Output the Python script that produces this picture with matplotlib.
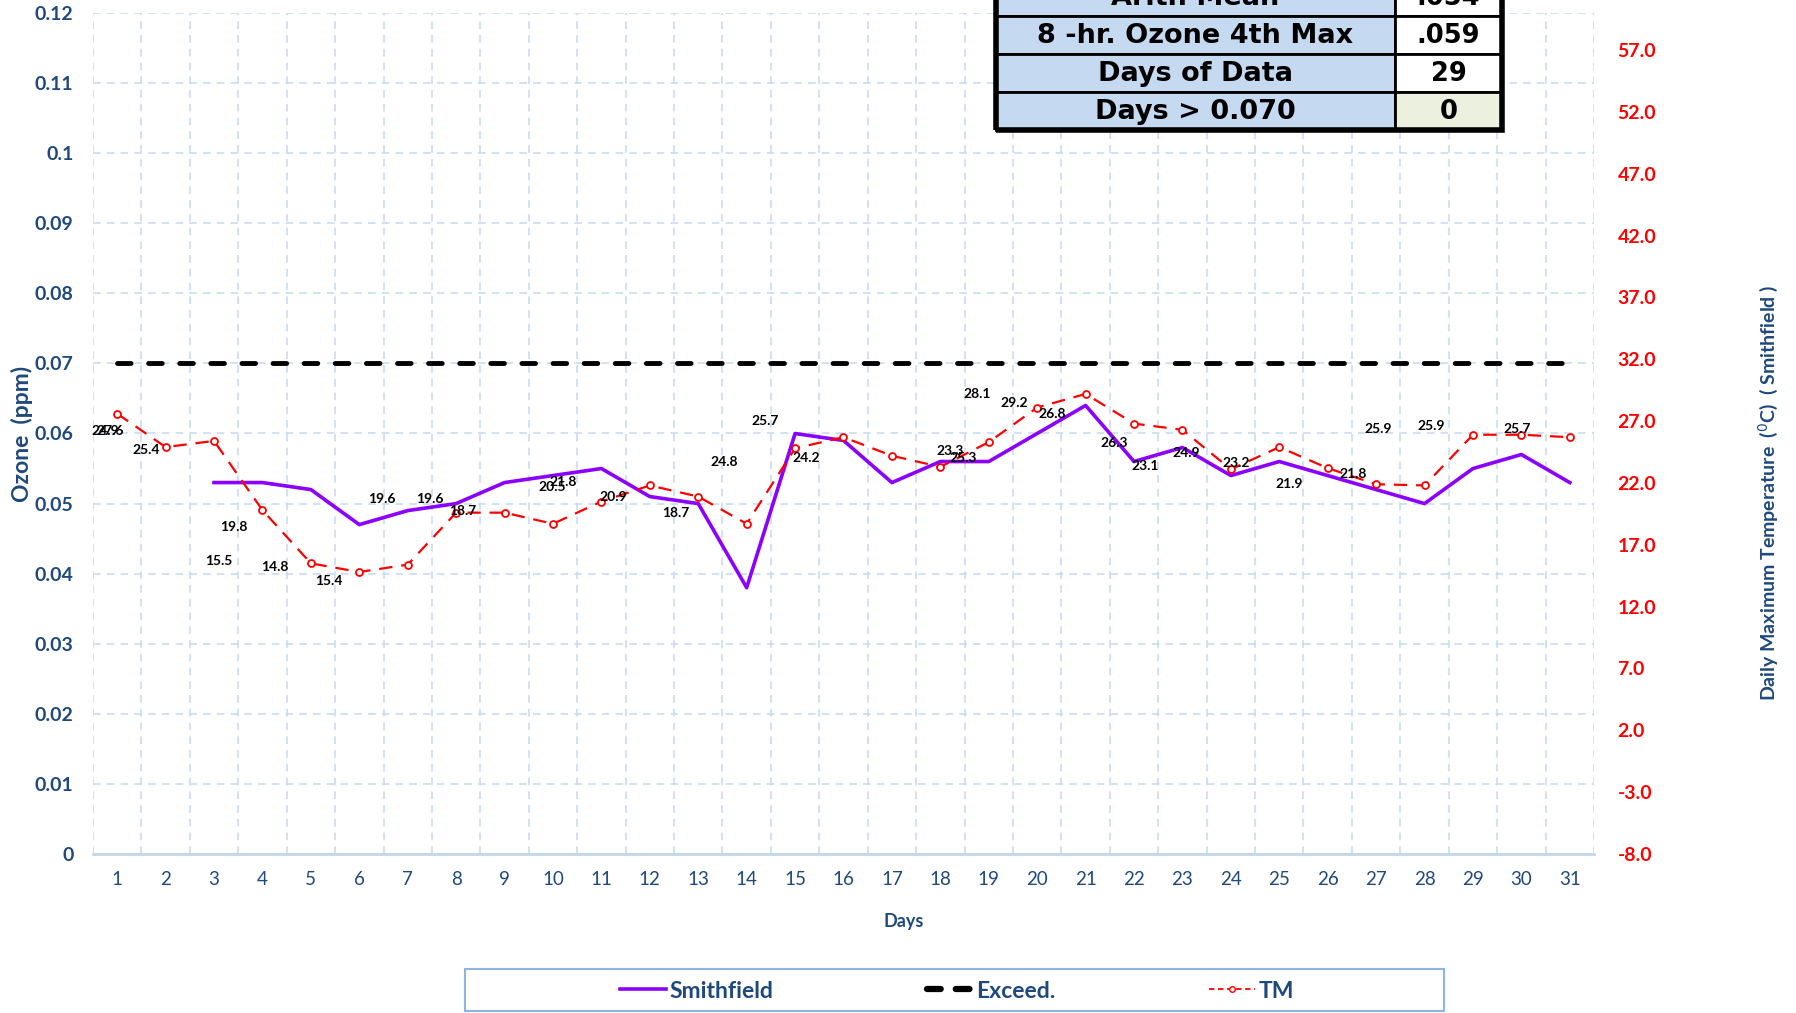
import numpy as np
import matplotlib.pyplot as plt
from matplotlib.patches import Rectangle
from matplotlib.lines import Line2D

# data
days = list(range(1, 32))
smithfield = [None, None, 0.053, 0.053, 0.052, 0.047, 0.049, 0.050, 0.053, 0.054,
              0.055, 0.051, 0.050, 0.038, 0.060, 0.059, 0.053, 0.056, 0.056, 0.060,
              0.064, 0.056, 0.058, 0.054, 0.056, 0.054, 0.052, 0.050, 0.055, 0.057,
              0.053]
exceed = [0.070] * 31
tm = [27.6, 24.9, 25.4, 19.8, 15.5, 14.8, 15.4, 19.6, 19.6, 18.7, 20.5, 21.8,
      20.9, 18.7, 24.8, 25.7, 24.2, 23.3, 25.3, 28.1, 29.2, 26.8, 26.3, 23.1,
      24.9, 23.2, 21.9, 21.8, 25.9, 25.9, 25.7]

table_labels = ["Arith Mean", "8 -hr. Ozone 4th Max", "Days of Data", "Days > 0.070"]
table_values = [".054", ".059", "29", "0"]

# where Excel dropped the TM data labels (offset from each point, days / deg C)
lab_dx = [-0.15, -1.25, -1.4, -0.6, -1.9, -1.75, -1.63, -1.54, -1.55, -1.86, -1.02,
          -1.8, -1.76, -1.46, -1.47, -1.62, -1.77, 0.2, -0.53, -1.25, -1.47, -1.7,
          -1.4, -1.77, -1.92, -1.88, -1.8, -1.47, -1.95, -1.86, -1.09]
lab_dy = [-1.4, 1.3, -0.7, -1.4, 0.2, 0.4, -1.3, 1.1, 1.1, 1.0, 1.2, 0.3, -0.05,
          0.85, -1.1, 1.3, -0.2, 1.3, -1.3, 1.1, -0.7, 0.8, -1.1, 0.3, -0.5, 0.4,
          0.0, 0.9, 0.5, 0.7, 0.7]

navy = '#1F497D'
grid_c = '#C6D9F1'
W, H = 1796, 1013

plt.rcParams['font.family'] = ['Lato', 'DejaVu Sans']
fig = plt.figure(figsize=(W / 100, H / 100), dpi=100)
ax = fig.add_axes([93 / W, 1 - 854 / H, (1594 - 93) / W, (854 - 13) / H])
ax2 = ax.twinx()

ax.set_xlim(0.5, 31.5)
ax.set_ylim(0, 0.12)
ax2.set_ylim(-8, 60)

ax.set_xticks(days)
ax.set_xticklabels([str(d) for d in days], color=navy, fontsize=13.5)
ax.set_xticks(np.arange(0.5, 32, 1), minor=True)
yt = np.round(np.arange(0, 0.121, 0.01), 2)
ax.set_yticks(yt)
ax.set_yticklabels([f"{v:g}" for v in yt], color=navy, fontsize=14, fontweight='bold')
ax.tick_params(which='both', length=0, pad=12)
ax.tick_params(axis='y', pad=14)
ax.grid(which='minor', axis='x', color=grid_c, linestyle=(0, (5, 4)), linewidth=1.1)
ax.grid(which='major', axis='y', color=grid_c, linestyle=(0, (5, 4)), linewidth=1.1)
ax.grid(which='major', axis='x', visible=False)
for s in ['top', 'left', 'right']:
    ax.spines[s].set_visible(False)
    ax2.spines[s].set_visible(False)
ax2.spines['bottom'].set_visible(False)
ax.spines['bottom'].set_color('#C5D5EA')
ax.spines['bottom'].set_linewidth(2)

rt = np.arange(-8, 58, 5)
ax2.set_yticks(rt)
ax2.set_yticklabels([f"{v:.1f}" for v in rt], color='red', fontsize=14, fontweight='bold')
ax2.tick_params(length=0, pad=17)

ax.plot(days, exceed, color='black', linewidth=3.5, linestyle=(0, (2.8, 3.6)),
        dash_capstyle='round', zorder=3)
sm = np.array([np.nan if v is None else v for v in smithfield], dtype=float)
ax.plot(days, sm, color='#8B00FF', linewidth=2.6, zorder=4)
ax2.plot(days, tm, color='red', linewidth=1.6, linestyle=(0, (6, 4)),
         marker='o', markersize=5, markerfacecolor='white', markeredgecolor='red',
         markeredgewidth=1.3, zorder=5)

for d, t, dx, dy in zip(days, tm, lab_dx, lab_dy):
    ax2.text(d + dx, t + dy, f"{t:.1f}", fontsize=10, fontweight='bold',
             ha='center', va='center', color='black', zorder=6)

ax.set_ylabel("Ozone  (ppm)", color=navy, fontsize=16.5, fontweight='bold')
ax.yaxis.set_label_coords(-0.04, 0.5)
ax.set_xlabel("Days", color=navy, fontsize=13, fontweight='bold')
ax.xaxis.set_label_coords(0.54, -0.07)
ax2.set_ylabel("Daily Maximum Temperature  ($^0$C)  ( Smithfield )", color=navy,
               fontsize=14, fontweight='bold')
ax2.yaxis.set_label_coords(1.108, 0.43)


# stats table in the top corner (top row runs off the figure like the original)
def fx(px):
    return px / W


def fy(py):
    return 1 - py / H


rows = [-22, 16, 54, 92, 130]
x0, xm, x1 = 996, 1395, 1502
for i, (lab, val) in enumerate(zip(table_labels, table_values)):
    ytop, ybot = rows[i], rows[i + 1]
    fig.add_artist(Rectangle((fx(x0), fy(ybot)), fx(xm) - fx(x0), fy(ytop) - fy(ybot),
                             transform=fig.transFigure, facecolor='#C5D9F1',
                             edgecolor='black', linewidth=2, zorder=10))
    fig.add_artist(Rectangle((fx(xm), fy(ybot)), fx(x1) - fx(xm), fy(ytop) - fy(ybot),
                             transform=fig.transFigure,
                             facecolor='#EBF1DE' if i == 3 else 'white',
                             edgecolor='black', linewidth=2, zorder=10))
    ymid = fy((ytop + ybot) / 2 + 1)
    fig.text(fx((x0 + xm) / 2), ymid, lab, ha='center', va='center', fontsize=19.5,
             fontweight='bold', family='DejaVu Sans', color='black', zorder=11)
    fig.text(fx((xm + x1) / 2), ymid, val, ha='center', va='center', fontsize=18.5,
             fontweight='bold', family='DejaVu Sans', color='black', zorder=11)
fig.add_artist(Rectangle((fx(x0), fy(rows[-1])), fx(x1) - fx(x0), fy(rows[0]) - fy(rows[-1]),
                         transform=fig.transFigure, facecolor='none',
                         edgecolor='black', linewidth=4, zorder=12))

# legend: frame drawn separately so it can be wider than its entries
fig.add_artist(Rectangle((fx(465), fy(1011)), fx(1444) - fx(465), fy(969) - fy(1011),
                         transform=fig.transFigure, facecolor='white',
                         edgecolor='#8EB4E3', linewidth=1.5, zorder=8))
handles = [Line2D([], [], color='#8B00FF', linewidth=2.6),
           Line2D([], [], color='black', linewidth=4.5, linestyle=(0, (2.2, 2.4)),
                  dash_capstyle='round'),
           Line2D([], [], color='red', linewidth=1.3, linestyle=(0, (3, 2)),
                  marker='o', markersize=4, markerfacecolor='white', markeredgecolor='red')]
leg = fig.legend(handles, ["Smithfield", "Exceed.", "TM"], ncol=3,
                 loc='center', bbox_to_anchor=(fx(957), fy(991)), frameon=False,
                 handlelength=2.0, handletextpad=0.15, columnspacing=6.7,
                 prop={'weight': 'bold', 'size': 16.5})
leg.set_zorder(9)
for t in leg.get_texts():
    t.set_color(navy)

fig.savefig("out.png", dpi=100)
